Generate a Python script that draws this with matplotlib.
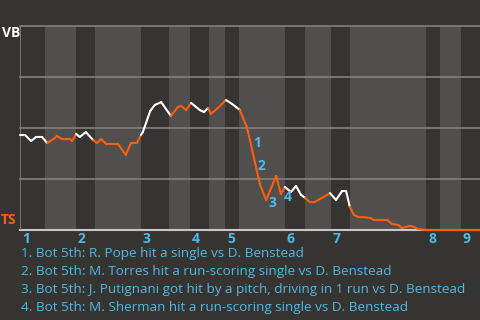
import numpy as np
import matplotlib
matplotlib.use("Agg")
import matplotlib.pyplot as plt
from matplotlib.collections import LineCollection
import matplotlib.transforms as mtransforms

# game progress (0-100) and VB win probability (%) for each play
play_x = [0, 1.1, 2.4, 3.5, 4.8, 5.9, 7.6, 8.0, 9.1, 10.9, 11.3, 12.2, 13.0, 14.3,
          15.9, 16.7, 17.6, 18.7, 21.3, 23.0, 24.1, 25.4, 26.3, 26.7, 28.3, 29.3,
          30.7, 32.8, 34.3, 35.0, 36.1, 37.2, 39.1, 40.0, 40.9, 41.5, 43.0, 44.8,
          46.1, 47.8, 48.5, 49.3, 50.0, 51.1, 52.2, 53.5, 55.7, 56.7, 57.6, 58.9,
          60.0, 61.1, 62.0, 63.0, 64.1, 65.2, 67.4, 68.7, 70.0, 70.9, 71.7, 72.6,
          73.5, 74.3, 76.1, 77.0, 79.8, 80.9, 82.2, 83.0, 83.9, 84.8, 85.7, 86.5,
          88.3, 100]
win_prob = [46.6, 46.6, 43.6, 45.6, 45.6, 42.6, 45.1, 46.1, 44.6, 44.6, 43.6, 47.1,
            45.6, 48.0, 44.1, 42.6, 44.6, 42.2, 42.2, 36.8, 42.6, 42.6, 46.6, 48.0,
            58.3, 61.3, 62.7, 55.9, 60.3, 60.8, 58.8, 62.3, 58.8, 57.8, 59.8, 56.9,
            59.8, 63.7, 61.8, 58.8, 54.9, 50.5, 44.1, 32.8, 22.1, 14.7, 26.5, 17.6,
            21.1, 18.6, 21.6, 17.2, 15.7, 13.7, 13.7, 15.2, 18.1, 14.7, 19.1, 19.1,
            11.3, 7.4, 6.4, 6.4, 5.9, 4.9, 4.9, 2.9, 2.5, 1.0, 1.5, 2.0, 1.5, 0.5,
            0, 0]

# half-inning boundaries (top 1, bot 1, top 2, ...)
half_starts = [0, 5.4, 12.2, 16.3, 26.3, 32.4, 37.0, 41.1, 44.6, 47.6, 57.6,
               62.0, 67.6, 71.7, 88.3, 91.3, 95.9, 100]
innings = ["1", "2", "3", "4", "5", "6", "7", "8", "9"]

# key plays (index into play arrays)
key_plays = [42, 43, 45, 47]
key_texts = [
    "1. Bot 5th: R. Pope hit a single vs D. Benstead",
    "2. Bot 5th: M. Torres hit a run-scoring single vs D. Benstead",
    "3. Bot 5th: J. Putignani got hit by a pitch, driving in 1 run vs D. Benstead",
    "4. Bot 5th: M. Sherman hit a run-scoring single vs D. Benstead",
]

bg = "#363430"
band = "#504f4d"
white = "#ffffff"
orange = "#ff5e0e"
blue = "#4fb9e8"

plt.rcParams['font.family'] = ['Open Sans', 'DejaVu Sans']

fig = plt.figure(figsize=(4.8, 3.2), dpi=100, facecolor=bg)
ax = fig.add_axes([20 / 480, 90 / 320, 460 / 480, 204 / 320])
ax.set_facecolor(bg)
ax.set_xlim(0, 100)
ax.set_ylim(0, 100)

# bottom halves are shaded
for i in range(len(half_starts) - 1):
    if i % 2 == 1:
        ax.axvspan(half_starts[i], half_starts[i + 1], color=band, lw=0, zorder=0)

for y in [25, 50, 75, 100]:
    ax.axhline(y, color="#828180", lw=1.2, zorder=1, clip_on=False)

for s in ax.spines.values():
    s.set_visible(False)
ax.axhline(0, color="#c8c8c8", lw=1.5, zorder=1, clip_on=False)
ax.axvline(0, color="#828180", lw=1.2, zorder=1)
ax.set_xticks([])
ax.set_yticks([])

# win-probability line, white while VB bats, orange while TS bats
pts = np.column_stack([play_x, win_prob])
segs = np.stack([pts[:-1], pts[1:]], axis=1)
mids = (pts[:-1, 0] + pts[1:, 0]) / 2
half_idx = np.searchsorted(half_starts, mids, side="right") - 1
colors = [white if h % 2 == 0 else orange for h in half_idx]
lc = LineCollection(segs, colors=colors, linewidths=1.5, zorder=3,
                    capstyle="round", joinstyle="round")
lc.set_clip_on(False)
ax.add_collection(lc)

for n, k in enumerate(key_plays):
    ax.annotate(str(n + 1), (play_x[k], win_prob[k]), xytext=(2, -2),
                textcoords="offset points", color=blue, fontsize=10,
                fontweight="bold", ha="left", va="center", zorder=4)

trans = mtransforms.blended_transform_factory(ax.transData, fig.transFigure)
for i, lab in enumerate(innings):
    ax.text(half_starts[2 * i] + 0.4, 1 - 239 / 320, lab, transform=trans,
            color=blue, fontsize=10, fontweight="bold", ha="left", va="center")

fig.text(2 / 480, 1 - 33 / 320, "VB", color=white, fontsize=10,
         fontweight="bold", ha="left", va="center")
fig.text(1 / 480, 1 - 220 / 320, "TS", color=orange, fontsize=10,
         fontweight="bold", ha="left", va="center")

for i, t in enumerate(key_texts):
    fig.text(21 / 480, 1 - (254 + i * 17.7) / 320, t, color=blue, fontsize=9.7,
             ha="left", va="center")

fig.savefig("out.png", dpi=100, facecolor=bg)
